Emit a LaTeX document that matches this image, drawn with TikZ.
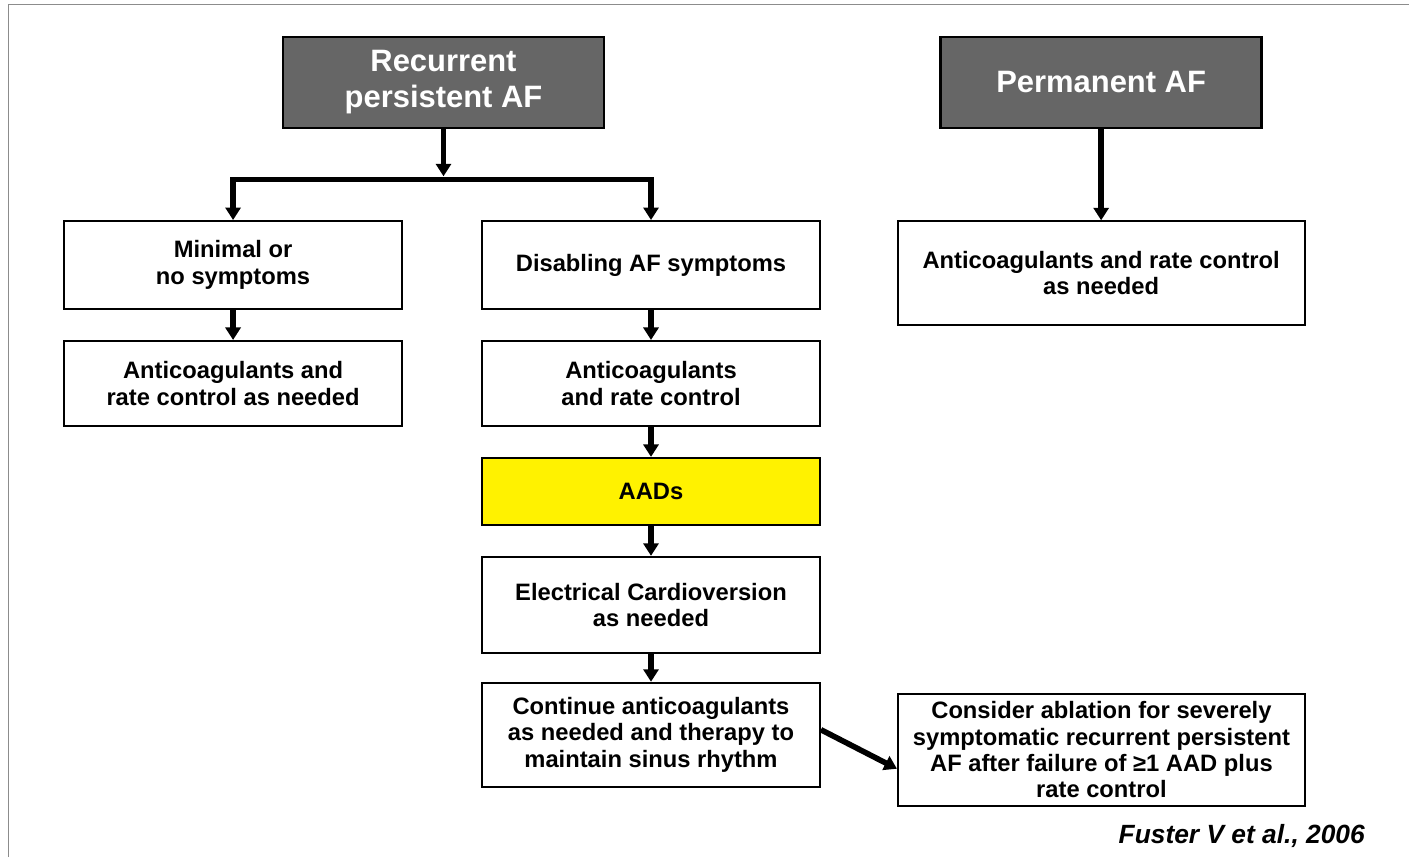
\documentclass[tikz,border=0pt]{standalone}
\usepackage{fontspec}
\setmainfont{Liberation Sans}
\usepackage{xcolor}
\usepackage{tikz}
\usetikzlibrary{positioning,arrows.meta}
\definecolor{headgray}{HTML}{666666}
\definecolor{framegray}{HTML}{8C8C8C}
\newcommand{\boxtextfont}{\fontsize{13.5}{15}\selectfont\bfseries}
\newcommand{\headtextfont}{\fontsize{17.6}{20.5}\selectfont\bfseries}
\newcommand{\citetextfont}{\fontsize{15}{17}\selectfont\bfseries\itshape}
\tikzset{%
	block/.style     = {draw, rectangle, line width=1.1pt, align=center,
		minimum width=6.76cm, minimum height=1.76cm, font=\boxtextfont},
	headblock/.style = {block, fill=headgray, text=white, line width=1.5pt,
		minimum width=6.42cm, minimum height=1.82cm, font=\headtextfont},
	wideblock/.style = {block, minimum width=8.14cm},
	flow/.style      = {line width=3.2pt, ->}
}
\begin{document}
\begin{tikzpicture}[node distance=0.6cm,
	>={Triangle[length=0.25cm,width=0.3cm]},
	line join=miter]
	\useasboundingbox (0,0) rectangle (28.18,-17.14);
	\draw[framegray, line width=0.6pt] (0.17,-17.14) -- (0.17,-0.09) -- (28.18,-0.09);
	
	\node[headblock] (rec) at (8.87,-1.65) {Recurrent\\persistent AF};
	\node[headblock, right=6.68cm of rec] (perm) {Permanent AF};
	
	\node[block] (dis) at (13.02,-5.3) {Disabling AF symptoms};
	\node[block, left=1.56cm of dis] (minimal) {Minimal or\\no symptoms};
	\node[block, minimum height=1.7cm, below=of minimal] (antiL) {Anticoagulants and\\rate control as needed};
	\node[block, minimum height=1.7cm, below=of dis] (antiM) {Anticoagulants\\and rate control};
	\node[block, fill=yellow, minimum height=1.34cm, below=of antiM] (aad) {AADs};
	\node[block, minimum height=1.92cm, below=of aad] (ecv) {Electrical Cardioversion\\as needed};
	\node[block, minimum height=2.08cm, below=0.56cm of ecv] (cont) {Continue anticoagulants\\as needed and therapy to\\maintain sinus rhythm};
	
	\node[wideblock, minimum height=2.08cm, below=1.82cm of perm] (antiR) {Anticoagulants and rate control\\as needed};
	\node[wideblock, minimum height=2.24cm, right=1.52cm of cont, yshift=-0.3cm] (abl) {Consider ablation for severely\\symptomatic recurrent persistent\\AF after failure of ≥1 AAD plus\\rate control};
	\node[anchor=base east, font=\citetextfont] (cite) at (27.42,-16.86) {Fuster V et al., 2006};
	
	\coordinate[below=1cm of rec] (bus);
	\draw[flow] (rec) -- ([yshift=0.06cm]bus);
	\draw[flow, <->] (minimal) |- (bus) -| (dis);
	\draw[flow] (minimal) -- (antiL);
	\draw[flow] (dis) -- (antiM);
	\draw[flow] (antiM) -- (aad);
	\draw[flow] (aad) -- (ecv);
	\draw[flow] (ecv) -- (cont);
	\draw[flow] (perm) -- (antiR);
	\draw[flow] ([yshift=0.1cm]cont.east) -- ([yshift=-0.38cm]abl.west);
	
\end{tikzpicture}
\end{document}
